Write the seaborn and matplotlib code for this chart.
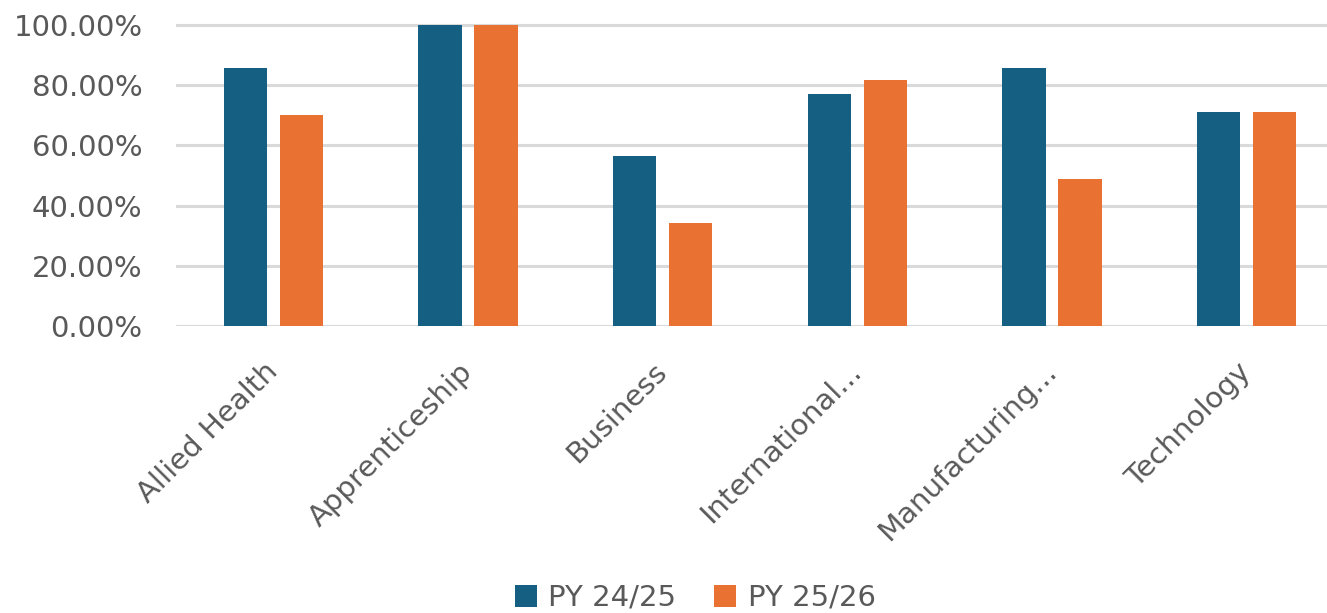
import matplotlib
matplotlib.use("Agg")
import matplotlib.pyplot as plt
import matplotlib.transforms as mtransforms
import seaborn as sns
import pandas as pd
from matplotlib.patches import Patch
from matplotlib.ticker import FuncFormatter

categories = ["Allied Health", "Apprenticeship", "Business", "International...",
              "Manufacturing...", "Technology"]
series_names = ["PY 24/25", "PY 25/26"]
py_24_25 = [85.71, 100.0, 56.5, 77.0, 85.71, 71.1]
py_25_26 = [70.0, 100.0, 34.2, 81.7, 48.8, 71.1]
colors = ["#156082", "#E97132"]
y_ticks = [0, 20, 40, 60, 80, 100]

df = pd.DataFrame({
    "category": categories * 2,
    "series": [series_names[0]] * len(categories) + [series_names[1]] * len(categories),
    "value": py_24_25 + py_25_26,
})

sns.set_theme(style="white")
plt.rcParams["font.family"] = ["DejaVu Sans"]

W, H = 1327, 613
fig = plt.figure(figsize=(W / 100, H / 100), dpi=100)
left_px, right_px = 176, 1344
bottom_px, top_px = H - 326, H - 23
ax = fig.add_axes([left_px / W, bottom_px / H, (right_px - left_px) / W, (top_px - bottom_px) / H])

sns.barplot(data=df, x="category", y="value", hue="series", order=categories,
            hue_order=series_names, palette=colors, width=0.575, gap=0.23,
            saturation=1, linewidth=0, ax=ax, legend=False)

ax.set_xlim(-0.5, len(categories) - 0.5)
ax.set_ylim(0, 100 * (top_px - bottom_px) / 301)
ax.set_yticks(y_ticks)
ax.yaxis.set_major_formatter(FuncFormatter(lambda v, p: f"{v:.2f}%"))
ax.set_xlabel("")
ax.set_ylabel("")
for s in ax.spines.values():
    s.set_visible(False)
ax.yaxis.grid(True, color="#d9d9d9", linewidth=2.2)
ax.set_axisbelow(True)
ax.tick_params(axis="y", length=0, pad=24, labelsize=21, labelcolor="#595959")
ax.tick_params(axis="x", length=0, pad=14, labelsize=21, labelcolor="#595959")
offset = mtransforms.ScaledTranslation(-0.10, -0.12, fig.dpi_scale_trans)
for lab in ax.get_xticklabels():
    lab.set_rotation(45)
    lab.set_ha("right")
    lab.set_va("top")
    lab.set_rotation_mode("anchor")
    lab.set_transform(lab.get_transform() + offset)

handles = [Patch(facecolor=c, edgecolor="none") for c in colors]
fig.legend(handles, series_names, loc="center", bbox_to_anchor=(0.524, (H - 598) / H),
           ncol=2, frameon=False, fontsize=21, labelcolor="#595959",
           handlelength=0.75, handleheight=0.75, handletextpad=0.4, columnspacing=1.3)

fig.savefig("out.png", dpi=100)
